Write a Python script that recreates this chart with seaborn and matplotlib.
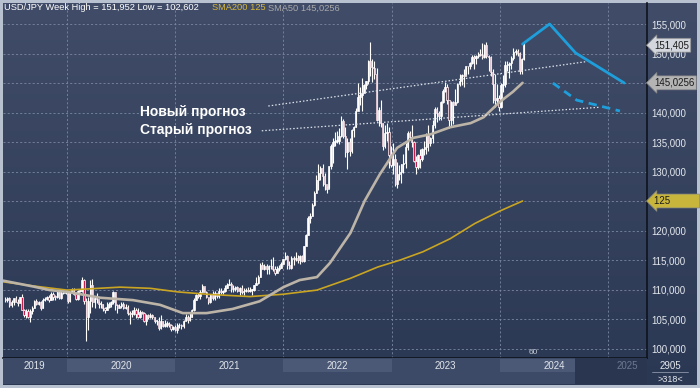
import numpy as np
import pandas as pd
import matplotlib
matplotlib.use("Agg")
import matplotlib.pyplot as plt
from matplotlib.colors import LinearSegmentedColormap
import seaborn as sns

# --- weekly USD/JPY candles (Fridays from 2019-06-07), open = previous close ---
FIRST_DATE = "2019-06-07"
FIRST_OPEN = 108.3

closes = [
    108.2, 108.5, 107.3, 107.9, 108.5, 107.9, 107.7, 108.7, 106.6, 105.7, 106.4, 105.4, 106.3,
    106.9, 108.1, 107.6, 107.9, 106.9, 108.3, 108.4, 108.7, 108.2, 109.3, 108.8, 108.7, 109.5,
    108.6, 109.4, 109.4, 109.4,
    # 2020
    108.1, 109.5, 110.1, 109.3, 108.4, 109.8, 109.8, 111.6, 108.1, 105.4, 108.0, 110.8, 107.9,
    108.5, 108.4, 107.5, 107.5, 106.9, 106.6, 107.1, 107.6, 107.8, 109.6, 107.4, 106.9, 107.2,
    107.5, 106.9, 107.0, 106.1, 105.8, 105.9, 106.6, 105.8, 105.4, 106.2, 106.1, 104.6, 105.6,
    105.3, 105.6, 105.4, 104.7, 104.7, 103.4, 104.6, 103.8, 104.1, 104.2, 104.0, 103.3, 103.6,
    # 2021
    103.2, 103.9, 103.9, 103.8, 104.7, 105.4, 104.9, 105.4, 106.6, 108.3, 109.0, 108.9, 109.6,
    110.6, 109.6, 108.8, 107.9, 109.3, 108.6, 109.4, 108.9, 109.8, 109.5, 109.7, 110.2, 110.8,
    111.0, 110.1, 110.1, 110.5, 109.7, 110.2, 109.6, 109.8, 109.8, 109.7, 109.9, 109.9, 110.7,
    111.1, 112.2, 114.2, 113.5, 114.0, 113.4, 113.9, 114.0, 113.4, 112.8, 113.4, 113.7, 114.4, 115.1,
    # 2022
    115.6, 114.2, 113.7, 115.3, 115.2, 115.4, 115.0, 115.6, 114.8, 117.3, 119.2, 122.1,
    122.5, 124.3, 126.4, 128.5, 129.7, 130.6, 129.2, 127.9, 127.1, 130.9, 134.4, 135.0, 135.2,
    135.2, 136.1, 138.5, 136.1, 133.3, 135.0, 133.4, 137.0, 137.6, 140.2, 142.6, 142.9, 143.3, 144.7,
    145.3, 148.7, 147.7, 147.6, 146.6, 138.8, 140.4, 138.3, 134.3, 136.6, 136.7, 132.8, 131.1,
    # 2023
    132.1, 127.9, 129.6, 129.9, 131.2, 131.4, 134.1, 136.5, 135.9, 135.0, 131.8, 130.7, 132.8,
    132.2, 133.8, 134.1, 136.3, 134.8, 135.7, 137.9, 140.6, 139.9, 139.4, 141.8, 143.7, 144.3,
    142.1, 138.8, 141.8, 141.2, 141.8, 144.9, 145.4, 146.4, 146.2, 147.8, 147.9, 148.4, 149.4,
    149.3, 149.6, 149.9, 149.7, 149.4, 151.5, 149.6, 149.4, 146.8, 144.9, 142.2, 142.4, 141.0,
    # 2024
    144.6, 144.9, 148.1, 148.1, 148.4, 149.3, 150.2, 150.5, 150.1, 147.1, 149.0, 151.4,
]

highs = [
    108.7, 108.8, 108.8, 108.2, 108.6, 108.9, 108.4, 108.8, 109.3, 106.7, 106.7, 106.7, 106.7,
    107.2, 108.3, 108.4, 108.0, 108.0, 108.6, 108.7, 108.9, 109.0, 109.5, 109.5, 109.1, 109.7,
    109.7, 109.7, 109.7, 109.7,
    109.7, 109.6, 110.3, 110.2, 109.5, 110.0, 110.1, 112.2, 111.7, 108.5, 108.8, 111.6, 111.7,
    108.7, 109.4, 108.1, 108.1, 107.5, 107.0, 107.8, 107.9, 108.1, 109.8, 109.6, 107.6, 107.6,
    107.9, 107.9, 107.5, 107.4, 106.4, 106.5, 107.0, 106.9, 106.9, 106.6, 106.4, 106.2, 105.8,
    105.8, 106.1, 105.8, 105.4, 104.9, 105.3, 105.6, 104.7, 104.8, 104.7, 104.5, 104.1, 103.8,
    104.0, 104.4, 104.4, 104.1, 104.9, 105.8, 105.7, 106.2, 106.7, 108.6, 109.2, 109.4, 110.0,
    110.9, 110.5, 109.7, 108.5, 109.3, 109.7, 109.8, 109.3, 110.2, 110.3, 109.9, 110.8, 111.1,
    111.7, 111.2, 110.7, 110.6, 110.6, 110.4, 110.8, 110.2, 110.3, 110.4, 110.5, 110.1, 110.8,
    112.1, 112.4, 114.5, 114.7, 114.3, 114.4, 114.2, 115.2, 115.5, 113.9, 113.9, 114.2, 114.6, 115.2,
    116.3, 115.9, 114.8, 115.7, 115.7, 116.3, 115.9, 115.8, 115.8, 117.3, 119.4, 122.4,
    123.0, 124.7, 126.7, 129.4, 131.3, 131.0, 131.3, 129.8, 127.6, 131.0, 134.6, 135.6, 136.7,
    136.8, 137.3, 139.4, 138.9, 137.5, 135.6, 135.6, 137.2, 137.7, 140.8, 145.0, 144.3, 145.9, 144.9,
    145.4, 148.9, 151.95, 149.1, 148.8, 147.6, 140.9, 142.2, 138.2, 137.9, 138.2, 137.5, 134.4,
    134.8, 132.9, 131.6, 131.1, 131.2, 132.9, 134.8, 136.9, 136.9, 137.9, 135.1, 132.6, 133.0,
    133.8, 134.0, 135.1, 136.6, 137.8, 135.8, 138.7, 140.9, 140.9, 140.2, 141.9, 143.9, 145.1,
    144.9, 142.0, 142.0, 141.9, 143.9, 145.0, 146.6, 146.6, 147.4, 147.9, 147.9, 148.5, 149.7,
    149.8, 149.8, 150.2, 150.8, 151.7, 151.6, 151.9, 149.8, 149.6, 147.3, 146.6, 144.9, 142.9,
    145.0, 146.4, 148.8, 148.7, 148.6, 149.6, 150.9, 150.7, 150.8, 150.2, 149.2, 151.9,
]

lows = [
    107.8, 107.9, 107.1, 107.1, 107.3, 107.8, 107.2, 107.8, 106.5, 105.3, 105.1, 105.2, 104.5,
    105.8, 106.8, 107.4, 107.3, 106.5, 106.8, 108.0, 108.2, 107.9, 108.2, 108.2, 108.3, 108.5,
    108.4, 108.4, 109.2, 109.2,
    107.7, 107.8, 109.4, 109.1, 108.3, 108.3, 109.6, 109.6, 107.5, 101.2, 103.2, 106.0, 107.0,
    106.9, 107.7, 106.9, 106.9, 106.4, 106.1, 106.6, 106.8, 107.1, 107.5, 106.6, 106.1, 106.8,
    106.9, 106.7, 106.7, 105.7, 104.2, 105.3, 105.6, 105.1, 105.2, 105.2, 105.9, 104.5, 104.0,
    105.0, 105.1, 105.0, 104.3, 104.0, 103.2, 103.3, 103.7, 103.7, 103.7, 103.7, 102.9, 103.2,
    102.9, 102.6, 103.5, 103.3, 103.5, 104.6, 104.4, 104.6, 105.4, 106.4, 108.3, 108.6, 108.4,
    109.5, 109.5, 108.6, 107.5, 107.7, 108.3, 108.3, 108.6, 108.6, 109.3, 109.2, 109.6, 110.2,
    110.8, 109.5, 109.6, 109.8, 109.5, 109.0, 109.3, 109.1, 109.6, 109.6, 109.6, 109.1, 109.8,
    110.8, 111.0, 112.2, 113.4, 113.3, 112.7, 112.7, 113.5, 113.1, 112.5, 113.1, 113.2, 113.7, 114.4,
    115.0, 113.5, 113.5, 113.5, 114.2, 114.9, 114.5, 114.4, 114.6, 114.7, 117.7, 119.2,
    121.3, 122.4, 124.1, 126.3, 126.9, 128.6, 127.5, 126.9, 126.4, 127.2, 130.4, 131.5, 134.3,
    134.8, 134.7, 135.9, 135.6, 132.5, 130.4, 132.6, 133.2, 135.8, 137.6, 141.5, 141.3, 140.3, 143.5,
    144.0, 144.9, 146.2, 145.1, 145.7, 138.5, 137.7, 137.5, 133.6, 134.0, 135.2, 130.6, 130.8,
    129.6, 127.5, 127.2, 128.5, 128.1, 129.8, 130.6, 133.6, 135.3, 134.1, 131.6, 129.6, 130.4,
    130.6, 131.8, 132.8, 133.0, 133.5, 134.3, 134.8, 137.4, 138.4, 138.8, 138.8, 141.6, 143.5,
    141.5, 137.3, 137.7, 138.1, 141.5, 141.6, 144.5, 144.7, 144.4, 146.6, 146.5, 147.3, 148.2,
    147.3, 148.2, 149.2, 149.6, 149.1, 149.2, 149.2, 147.1, 146.2, 141.6, 140.9, 141.5, 140.2,
    140.8, 143.4, 144.3, 147.1, 145.9, 147.3, 148.9, 149.7, 149.6, 146.5, 146.5, 148.9,
]

# --- moving averages (decimal year, price) ---
sma50_x = [2019.41, 2019.69, 2019.84, 2020.00, 2020.31, 2020.61, 2020.86, 2021.07, 2021.29,
           2021.53, 2021.78, 2022.00, 2022.15, 2022.31, 2022.43, 2022.62, 2022.75, 2022.89,
           2023.05, 2023.20, 2023.36, 2023.54, 2023.73, 2023.85, 2024.00, 2024.12, 2024.21]
sma50_y = [111.5, 110.5, 109.9, 109.6, 108.6, 108.2, 107.4, 106.0, 106.0,
           106.7, 108.0, 110.4, 111.6, 112.1, 114.5, 119.6, 125.0, 129.5,
           134.0, 135.7, 136.3, 137.5, 138.2, 139.2, 141.8, 143.5, 145.03]

sma200_x = [2019.41, 2019.69, 2020.00, 2020.49, 2020.77, 2021.02, 2021.29, 2021.69, 2022.00,
            2022.31, 2022.62, 2022.87, 2023.08, 2023.29, 2023.54, 2023.77, 2024.00, 2024.21]
sma200_y = [111.3, 110.6, 109.9, 110.4, 110.2, 109.6, 109.2, 108.8, 109.2,
            109.9, 111.9, 113.8, 115.0, 116.4, 118.6, 121.2, 123.3, 125.0]

# --- forecasts ---
new_fc_x = [2024.21, 2024.46, 2024.70, 2025.15]
new_fc_y = [151.6, 155.0, 150.1, 145.0]
old_fc_x = [2024.49, 2024.71, 2025.11]
old_fc_y = [145.0, 142.1, 140.25]

new_trend_x = [2021.86, 2024.79]
new_trend_y = [141.1, 148.6]
old_trend_x = [2021.80, 2024.93]
old_trend_y = [136.9, 140.9]

price_ticks = [100, 105, 110, 115, 120, 125, 130, 135, 140, 145, 150, 155]
hidden_ticks = [125, 145]  # covered by the price tags
years = [2019, 2020, 2021, 2022, 2023, 2024, 2025]

# --- style ---
sns.set_theme(style="dark")
plt.rcParams['font.family'] = ['Liberation Sans', 'DejaVu Sans']

W, H = 700, 388
fig = plt.figure(figsize=(7, 3.88), dpi=100, facecolor='#b7c1cf')

grad = LinearSegmentedColormap.from_list('bg', ['#404c68', '#2b3853'])
bg = fig.add_axes([3 / W, 3 / H, 694 / W, 382 / H])
bg.imshow(np.linspace(0, 1, 256).reshape(-1, 1), aspect='auto', cmap=grad,
          extent=[0, 1, 0, 1], transform=bg.transAxes)
bg.set_axis_off()

ax = fig.add_axes([3 / W, 30 / H, 644 / W, 355 / H])
ax.set_facecolor('none')
ax.set_xlim(2019.4085, 2025.36)
ax.set_ylim(98.39, 158.56)

# candles
dates = pd.date_range(FIRST_DATE, periods=len(closes), freq='7D')
xs = np.array(dates.year + (dates.dayofyear - 1) / (365 + dates.is_leap_year.astype(int)))
c = np.array(closes)
o = np.r_[FIRST_OPEN, c[:-1]]
hi = np.array(highs)
lo = np.array(lows)
ax.vlines(xs, lo, hi, color='white', lw=0.8, zorder=3)
body_bottom = np.minimum(o, c)
body_h = np.maximum(np.abs(c - o), 0.15)
face = np.where(c >= o, 'white', '#c41e4a')
ax.bar(xs, body_h, bottom=body_bottom, width=0.0125, color=face,
       edgecolor='white', linewidth=0.5, zorder=4)

# moving averages
sns.lineplot(x=sma200_x, y=sma200_y, ax=ax, color='#c9a522', lw=1.2, zorder=5)
sns.lineplot(x=sma50_x, y=sma50_y, ax=ax, color='#bdb4a8', lw=1.9, zorder=5)

# trend lines and forecasts
sns.lineplot(x=new_trend_x, y=new_trend_y, ax=ax, color='#dde2ea', lw=0.9,
             linestyle=(0, (1.2, 1.6)), zorder=6)
sns.lineplot(x=old_trend_x, y=old_trend_y, ax=ax, color='#dde2ea', lw=0.9,
             linestyle=(0, (1.2, 1.6)), zorder=6)
sns.lineplot(x=new_fc_x, y=new_fc_y, ax=ax, color='#1e9fdb', lw=2.0, zorder=6)
sns.lineplot(x=old_fc_x, y=old_fc_y, ax=ax, color='#1e9fdb', lw=2.0,
             linestyle=(0, (3, 2)), zorder=6)

# grid + axes
ax.set_xticks(years[1:])
ax.set_yticks(price_ticks)
ax.grid(True, color='#7b88a2', lw=0.6, linestyle=(0, (2.5, 2.5)))
ax.tick_params(axis='x', length=0, labelbottom=False)
ax.yaxis.tick_right()
ax.tick_params(axis='y', length=0, pad=3, labelsize=7, labelcolor='#e4e8ee')
ax.set_yticklabels(["" if v in hidden_ticks else f"{v},000" for v in price_ticks])
for side in ['top', 'left']:
    ax.spines[side].set_visible(False)
ax.spines['right'].set_color('#0e131c')
ax.spines['right'].set_linewidth(1.2)
ax.spines['bottom'].set_color('#0e131c')
ax.spines['bottom'].set_linewidth(1.2)

# price tags on the right axis
tags = [(151.405, '151,405', '#d3d7dd'),
        (145.0256, '145,0256', '#b4b4b4'),
        (125, '125          ', '#c8b63c')]
for val, txt, fc in tags:
    ax.annotate(txt, xy=(1.0, val), xycoords=('axes fraction', 'data'),
                xytext=(5, 0), textcoords='offset points', va='center', ha='left',
                fontsize=7, color='#1a1a1a', zorder=10, annotation_clip=False,
                bbox=dict(boxstyle='larrow,pad=0.2', fc=fc, ec='#888888', lw=0.5))

# bottom time axis band
tx = fig.add_axes([3 / W, 4 / H, 644 / W, 26 / H])
tx.set_xlim(ax.get_xlim())
tx.set_ylim(0, 1)
tx.set_facecolor('#3c4a67')
for x0, x1 in [(2020, 2021), (2022, 2023), (2024, 2024.695)]:
    tx.axvspan(x0, x1, ymin=0.45, ymax=0.95, color='#4b5976', lw=0)
tx.axvspan(2024.695, 2025.36, color='#2a3650', lw=0)
year_centers = [2019.70, 2020.5, 2021.5, 2022.5, 2023.5, 2024.5, 2025.18]
for yr, xc in zip(years, year_centers):
    tx.text(xc, 0.7, str(yr), ha='center', va='center', fontsize=7,
            color='#6d7890' if yr == 2025 else '#e2e6ec')
tx.set_xticks([])
tx.set_yticks([])
for s in tx.spines.values():
    s.set_visible(False)

# header and annotations
fig.text(4 / W, 1 - 8 / H, 'USD/JPY Week High = 151,952 Low = 102,602',
         fontsize=6.7, color='white', va='center')
fig.text(212 / W, 1 - 8 / H, 'SMA200 125', fontsize=6.7, color='#d7b73a', va='center')
fig.text(268 / W, 1 - 8 / H, 'SMA50 145,0256', fontsize=6.7, color='#a9a9a9', va='center')

fig.text(140 / W, 1 - 112 / H, 'Новый прогноз', fontsize=10, weight='bold',
         color='white', va='center')
fig.text(140 / W, 1 - 130 / H, 'Старый прогноз', fontsize=10, weight='bold',
         color='white', va='center')
fig.text(533 / W, 1 - 353 / H, '60', fontsize=6, color='#c3c9d2', ha='center', va='center')

fig.text(670 / W, 1 - 366 / H, '2905', fontsize=7, color='#e4e8ee', ha='center', va='center')
fig.text(670 / W, 1 - 379 / H, '>318<', fontsize=6.5, color='#e4e8ee', ha='center', va='center')
fig.add_artist(plt.Line2D([652 / W, 688 / W], [1 - 372 / H, 1 - 372 / H],
                          color='#8c96a8', lw=0.6))

fig.savefig('out.png', dpi=100, facecolor=fig.get_facecolor())
